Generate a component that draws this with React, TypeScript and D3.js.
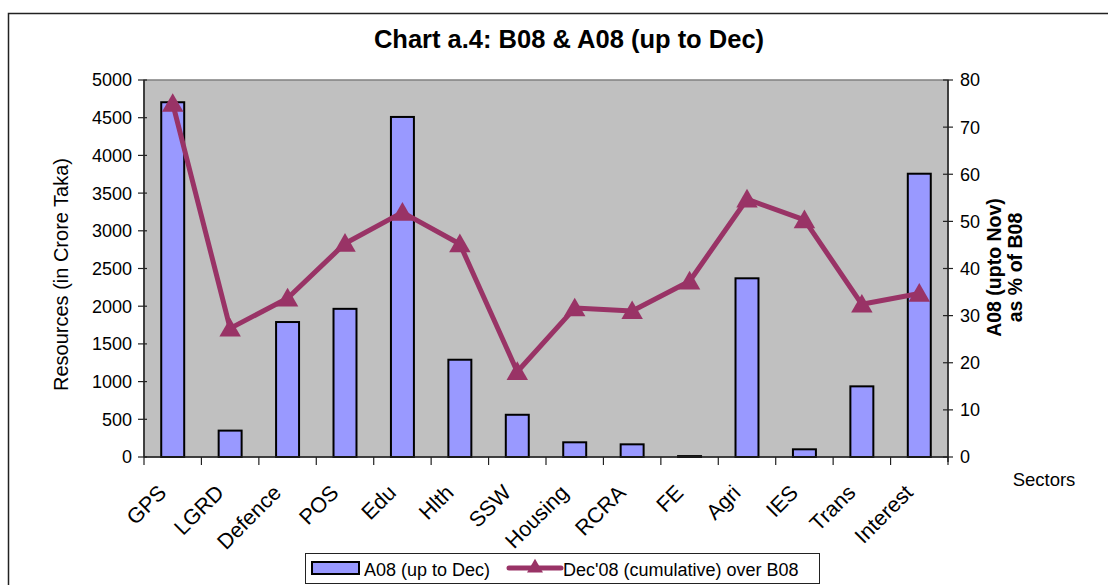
import React, { useEffect, useRef } from "react";
import * as d3 from "d3";

const sectors = ["GPS", "LGRD", "Defence", "POS", "Edu", "Hlth", "SSW", "Housing", "RCRA", "FE", "Agri", "IES", "Trans", "Interest"];
const a08 = [4705, 350, 1790, 1965, 4510, 1290, 560, 195, 168, 12, 2370, 102, 937, 3757];
const pctOfB08 = [75.0, 27.3, 33.7, 45.3, 51.9, 45.2, 18.1, 31.6, 31.0, 37.3, 54.7, 50.3, 32.4, 34.7];
const leftTicks = [0, 500, 1000, 1500, 2000, 2500, 3000, 3500, 4000, 4500, 5000];
const rightTicks = [0, 10, 20, 30, 40, 50, 60, 70, 80];

const W = 1108;
const H = 585;

const App: React.FC = () => {
    const svgRef = useRef<SVGSVGElement>(null);

    useEffect(() => {
        const svg = d3.select(svgRef.current);
        svg.selectAll("*").remove();

        const left = 144, right = 948, top = 80, bottom = 457;
        const font = "Arial, 'Liberation Sans', sans-serif";

        const x = d3.scaleBand<string>().domain(sectors).range([left, right]).paddingInner(0.6).paddingOuter(0.3);
        const yL = d3.scaleLinear().domain([0, 5000]).range([bottom, top]);
        const yR = d3.scaleLinear().domain([0, 80]).range([bottom, top]);

        // outer chart border
        svg.append("rect")
            .attr("x", 8.5).attr("y", 13.5)
            .attr("width", W + 20).attr("height", H + 20)
            .attr("fill", "white").attr("stroke", "#222").attr("stroke-width", 1.5);

        svg.append("text")
            .attr("x", 569).attr("y", 48)
            .attr("text-anchor", "middle")
            .style("font", `bold 25.5px ${font}`)
            .text("Chart a.4: B08 & A08 (up to Dec)");

        // plot area
        svg.append("rect")
            .attr("x", left).attr("y", top)
            .attr("width", right - left).attr("height", bottom - top)
            .attr("fill", "#c0c0c0").attr("stroke", "#808080").attr("stroke-width", 1.5);

        // bars
        svg.append("g").selectAll("rect")
            .data(sectors)
            .join("rect")
            .attr("x", d => x(d)!)
            .attr("width", x.bandwidth())
            .attr("y", (d, i) => yL(a08[i]))
            .attr("height", (d, i) => bottom - yL(a08[i]))
            .attr("fill", "#9999ff")
            .attr("stroke", "black")
            .attr("stroke-width", 2);

        // left axis
        const gl = svg.append("g");
        gl.append("line").attr("x1", left).attr("x2", left).attr("y1", top).attr("y2", bottom).attr("stroke", "#222").attr("stroke-width", 1.5);
        gl.selectAll("line.t").data(leftTicks).join("line").attr("class", "t")
            .attr("x1", left - 6).attr("x2", left + 3)
            .attr("y1", d => yL(d)).attr("y2", d => yL(d))
            .attr("stroke", "#222").attr("stroke-width", 1.2);
        gl.selectAll("text").data(leftTicks).join("text")
            .attr("x", left - 12).attr("y", d => yL(d)).attr("dy", "0.36em")
            .attr("text-anchor", "end")
            .style("font", `18px ${font}`)
            .text(d => d);

        // right axis
        const gr = svg.append("g");
        gr.append("line").attr("x1", right).attr("x2", right).attr("y1", top).attr("y2", bottom + 5).attr("stroke", "#222").attr("stroke-width", 1.5);
        gr.selectAll("line.t").data(rightTicks).join("line").attr("class", "t")
            .attr("x1", right - 5).attr("x2", right + 5)
            .attr("y1", d => yR(d)).attr("y2", d => yR(d))
            .attr("stroke", "#222").attr("stroke-width", 1.2);
        gr.selectAll("text").data(rightTicks).join("text")
            .attr("x", right + 12).attr("y", d => yR(d)).attr("dy", "0.36em")
            .attr("text-anchor", "start")
            .style("font", `18px ${font}`)
            .text(d => d);

        // x axis
        const gx = svg.append("g");
        gx.append("line").attr("x1", left).attr("x2", right).attr("y1", bottom).attr("y2", bottom).attr("stroke", "#222").attr("stroke-width", 1.5);
        const bounds = d3.range(sectors.length + 1).map(i => left + i * (right - left) / sectors.length);
        gx.selectAll("line.t").data(bounds).join("line").attr("class", "t")
            .attr("x1", d => d).attr("x2", d => d)
            .attr("y1", bottom).attr("y2", bottom + 8)
            .attr("stroke", "#222").attr("stroke-width", 1.2);
        gx.selectAll("text").data(sectors).join("text")
            .attr("text-anchor", "end")
            .attr("transform", d => `translate(${x(d)! + x.bandwidth() / 2 - 5},${bottom + 37}) rotate(-45)`)
            .style("font", `21.5px ${font}`)
            .text(d => d);

        // line series
        const line = d3.line<number>()
            .x((d, i) => x(sectors[i])! + x.bandwidth() / 2)
            .y(d => yR(d));
        svg.append("path")
            .datum(pctOfB08)
            .attr("d", line)
            .attr("fill", "none")
            .attr("stroke", "#993366")
            .attr("stroke-width", 5)
            .attr("stroke-linejoin", "round");
        const tri = d3.symbol().type(d3.symbolTriangle).size(200);
        svg.append("g").selectAll("path")
            .data(pctOfB08)
            .join("path")
            .attr("transform", (d, i) => `translate(${x(sectors[i])! + x.bandwidth() / 2},${yR(d) + 2})`)
            .attr("d", tri)
            .attr("fill", "#993366");

        // axis titles
        svg.append("text")
            .attr("transform", `translate(68,${(top + bottom) / 2 + 6}) rotate(-90)`)
            .attr("text-anchor", "middle")
            .style("font", `20px ${font}`)
            .text("Resources (in Crore Taka)");
        const rt = svg.append("text")
            .attr("transform", `translate(1001,${(top + bottom) / 2 - 1}) rotate(-90)`)
            .attr("text-anchor", "middle")
            .style("font", `bold 19.5px ${font}`);
        rt.append("tspan").attr("x", 0).attr("dy", 0).text("A08 (upto Nov)");
        rt.append("tspan").attr("x", 0).attr("dy", "1.1em").text("as % of B08");

        svg.append("text")
            .attr("x", 1044).attr("y", 486)
            .attr("text-anchor", "middle")
            .style("font", `18.5px ${font}`)
            .text("Sectors");

        // legend
        const lg = svg.append("g");
        lg.append("rect").attr("x", 305.5).attr("y", 553.5).attr("width", 514).attr("height", 30)
            .attr("fill", "white").attr("stroke", "#222").attr("stroke-width", 1);
        lg.append("rect").attr("x", 312).attr("y", 562).attr("width", 47).attr("height", 12)
            .attr("fill", "#9999ff").attr("stroke", "black").attr("stroke-width", 2);
        lg.append("text").attr("x", 364).attr("y", 575.5)
            .style("font", `18px ${font}`).text("A08 (up to Dec)");
        lg.append("line").attr("x1", 509).attr("x2", 561).attr("y1", 568).attr("y2", 568)
            .attr("stroke", "#993366").attr("stroke-width", 5).attr("stroke-linecap", "round");
        lg.append("path").attr("transform", "translate(535,568)").attr("d", d3.symbol().type(d3.symbolTriangle).size(110)).attr("fill", "#993366");
        lg.append("text").attr("x", 563).attr("y", 575.5)
            .style("font", `18px ${font}`).text("Dec'08 (cumulative) over B08");
    }, []);

    return (
        <svg ref={svgRef} width={W} height={H} style={{ position: "absolute", left: 0, top: 0, background: "white" }}></svg>
    );
};

export default App;
